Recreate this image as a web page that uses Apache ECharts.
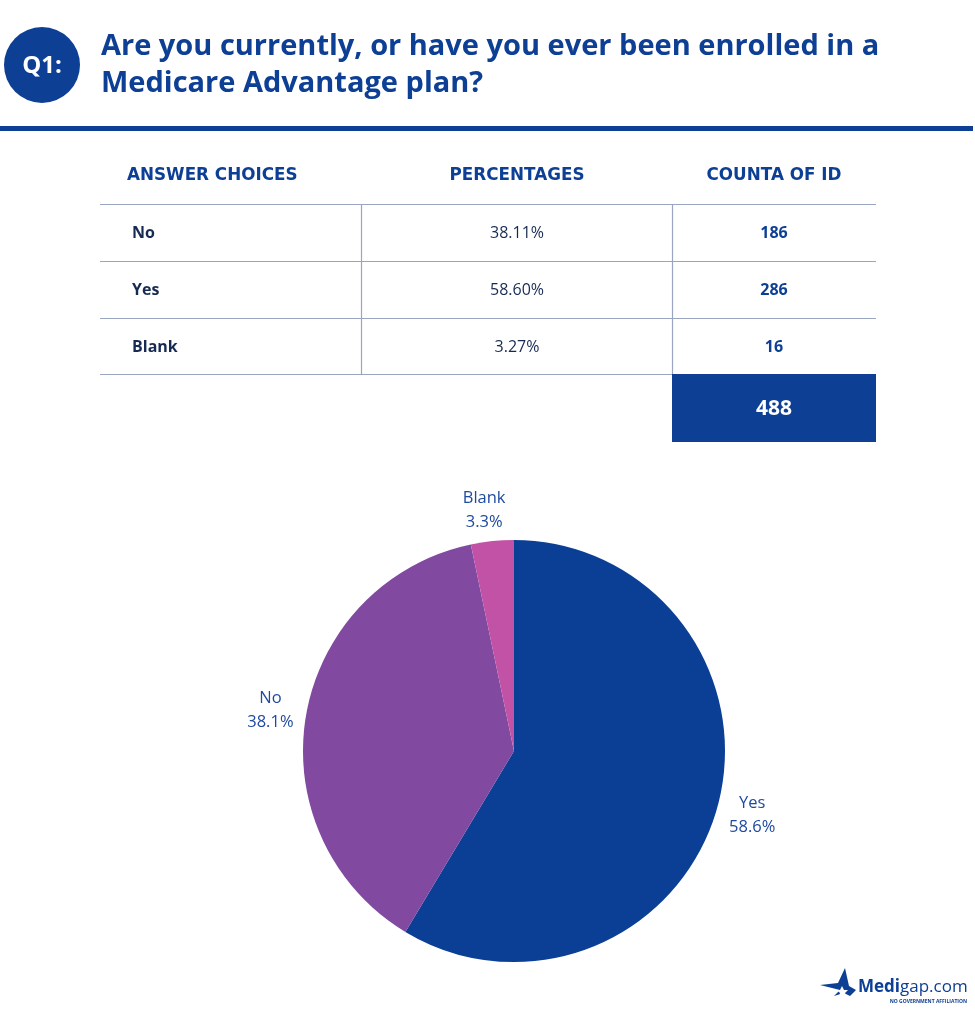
<!DOCTYPE html>
<html>
<head>
<meta charset="utf-8">
<script src="https://cdn.jsdelivr.net/npm/echarts@6/dist/echarts.min.js"></script>
<style>
html,body{margin:0;padding:0;background:#fff;}
#chart{width:975px;height:1024px;}
</style>
</head>
<body>
<div id="chart"></div>
<script>
// ---- data ----
const titleLines = ['Are you currently, or have you ever been enrolled in a', 'Medicare Advantage plan?'];
const questionTag = 'Q1:';
const tableHeaders = ['ANSWER CHOICES', 'PERCENTAGES', 'COUNTA OF ID'];
const answers = ['No', 'Yes', 'Blank'];
const percentages = ['38.11%', '58.60%', '3.27%'];
const counts = [186, 286, 16];
const total = 488;
const pieCategories = ['Yes', 'No', 'Blank'];
const pieValues = [286, 186, 16];
const pieColors = ['#0b3f96', '#8149a0', '#c152a5'];

const FONT = '"Open Sans", Lato, sans-serif';
const HFONT = '"DejaVu Sans", "Open Sans", sans-serif';
const NAVY = '#0d3f95';
const DARK = '#172b52';
const LINE = '#9aa6bf';

const chart = echarts.init(document.getElementById('chart'), null, {renderer: 'canvas'});

// table geometry (layout only)
const tblLeft = 100, tblRight = 876, col1 = 361, col2 = 672;
const rowTops = [204, 261, 318, 374];
const colCenters = [null, 517, 774];

const g = [];
// badge
g.push({type: 'circle', shape: {cx: 42, cy: 65, r: 38}, style: {fill: NAVY}});
g.push({type: 'text', x: 42, y: 66, style: {text: questionTag, fill: '#fff', font: 'bold 24px ' + FONT, align: 'center', verticalAlign: 'middle'}});
// title
titleLines.forEach((t, i) => {
  g.push({type: 'text', x: 101, y: 47 + i * 37, style: {text: t, fill: NAVY, font: 'bold 29px ' + FONT, align: 'left', verticalAlign: 'middle'}});
});
// rule
g.push({type: 'rect', shape: {x: 0, y: 126, width: 973, height: 5}, style: {fill: NAVY}});
// headers
g.push({type: 'text', x: 127, y: 176, style: {text: tableHeaders[0], fill: NAVY, font: 'bold 16.8px ' + HFONT, align: 'left', verticalAlign: 'middle'}});
g.push({type: 'text', x: colCenters[1], y: 176, style: {text: tableHeaders[1], fill: NAVY, font: 'bold 16.8px ' + HFONT, align: 'center', verticalAlign: 'middle'}});
g.push({type: 'text', x: colCenters[2], y: 176, style: {text: tableHeaders[2], fill: NAVY, font: 'bold 16.8px ' + HFONT, align: 'center', verticalAlign: 'middle'}});
// horizontal lines
rowTops.forEach(y => {
  g.push({type: 'line', shape: {x1: tblLeft, y1: y + 0.5, x2: tblRight, y2: y + 0.5}, style: {stroke: LINE, lineWidth: 1.2}});
});
// vertical lines
[col1, col2].forEach(x => {
  g.push({type: 'line', shape: {x1: x + 0.5, y1: rowTops[0], x2: x + 0.5, y2: rowTops[3]}, style: {stroke: LINE, lineWidth: 1.2}});
});
// rows
answers.forEach((a, i) => {
  const cy = (rowTops[i] + rowTops[i + 1]) / 2 + 1;
  g.push({type: 'text', x: 132, y: cy, style: {text: a, fill: DARK, font: 'bold 16px ' + FONT, align: 'left', verticalAlign: 'middle'}});
  g.push({type: 'text', x: colCenters[1], y: cy, style: {text: percentages[i], fill: DARK, font: '16px ' + FONT, align: 'center', verticalAlign: 'middle'}});
  g.push({type: 'text', x: colCenters[2], y: cy, style: {text: String(counts[i]), fill: NAVY, font: 'bold 16px ' + FONT, align: 'center', verticalAlign: 'middle'}});
});
// total box
g.push({type: 'rect', shape: {x: col2, y: rowTops[3], width: tblRight - col2, height: 68}, style: {fill: NAVY}});
g.push({type: 'text', x: colCenters[2], y: rowTops[3] + 35, style: {text: String(total), fill: '#fff', font: 'bold 21px ' + FONT, align: 'center', verticalAlign: 'middle'}});
// logo
g.push({type: 'polygon', shape: {points: [[820,985],[838,983],[845,968],[849,986],[856,990],[850,996],[844,993],[834,996],[840,990]]}, style: {fill: NAVY}});
g.push({type: 'polygon', shape: {points: [[840,990],[842,986],[844,990],[848,990],[845,993],[846,997],[842,995],[839,997],[840,993],[837,990]]}, style: {fill: '#fff'}});
g.push({type: 'text', x: 858, y: 987, style: {
  text: '{b|Medi}{r|gap.com}', align: 'left', verticalAlign: 'middle',
  rich: {b: {font: 'bold 17px ' + FONT, fill: NAVY}, r: {font: '17px ' + FONT, fill: NAVY}}
}});
g.push({type: 'text', x: 967, y: 1002, style: {text: 'NO GOVERNMENT AFFILIATION', fill: NAVY, font: 'bold 5px ' + FONT, align: 'right', verticalAlign: 'middle'}});

const option = {
  animation: false,
  backgroundColor: '#ffffff',
  color: pieColors,
  graphic: g,
  series: [{
    type: 'pie',
    center: [514, 751],
    radius: 211,
    startAngle: 90,
    clockwise: true,
    percentPrecision: 1,
    avoidLabelOverlap: false,
    silent: true,
    itemStyle: {borderWidth: 0},
    label: {
      show: true,
      position: 'outside',
      formatter: '{b}\n{d}%',
      color: '#1f4aa0',
      fontFamily: FONT,
      fontSize: 16.5,
      lineHeight: 24
    },
    labelLine: {show: false, length: 31, length2: 0},
    labelLayout: {align: 'center'},
    data: pieCategories.map((c, i) => ({name: c, value: pieValues[i]}))
  }]
};
chart.setOption(option);
</script>
</body>
</html>
